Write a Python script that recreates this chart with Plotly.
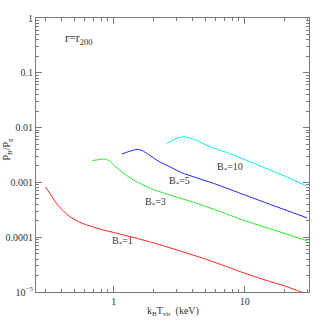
import plotly.graph_objects as go

# Data
red_x = [0.30, 0.33, 0.363, 0.40, 0.458, 0.53, 0.615, 0.824, 1.10, 1.48, 2.0, 3.0, 5.0, 7.0, 10.0, 15.0, 20.0, 25.0, 30.0]
red_y = [8.3e-4, 5.9e-4, 4.2e-4, 3.2e-4, 2.4e-4, 1.95e-4, 1.68e-4, 1.36e-4, 1.15e-4, 9.6e-5, 7.9e-5, 5.9e-5, 4.0e-5, 3.0e-5, 2.2e-5, 1.6e-5, 1.3e-5, 1.07e-5, 9.2e-6]

green_x = [0.687, 0.78, 0.86, 0.93, 1.02, 1.22, 1.46, 1.95, 2.61, 4.17, 7.0, 10.0, 20.0, 30.0]
green_y = [2.5e-3, 2.62e-3, 2.66e-3, 2.45e-3, 1.98e-3, 1.40e-3, 1.06e-3, 7.6e-4, 6.0e-4, 4.25e-4, 2.75e-4, 2.0e-4, 1.18e-4, 8.6e-5]

blue_x = [1.15, 1.3, 1.5, 1.65, 1.84, 2.19, 2.61, 3.3, 4.17, 6.0, 10.0, 20.0, 30.0]
blue_y = [3.3e-3, 3.65e-3, 4.0e-3, 3.8e-3, 3.23e-3, 2.44e-3, 1.99e-3, 1.5e-3, 1.24e-3, 9.3e-4, 5.9e-4, 3.2e-4, 2.25e-4]

cyan_x = [2.54, 3.03, 3.44, 4.05, 5.43, 7.29, 10.0, 13.1, 20.0, 29.7]
cyan_y = [5.13e-3, 6.4e-3, 6.8e-3, 6.16e-3, 4.47e-3, 3.5e-3, 2.6e-3, 2.0e-3, 1.32e-3, 8.6e-4]

series_names = ["B<sub>*</sub>=1", "B<sub>*</sub>=3", "B<sub>*</sub>=5", "B<sub>*</sub>=10"]
series_colors = ["#ff2020", "#22ee22", "#2222ee", "#00eeee"]

x_tick_vals = [1, 10]
x_tick_text = ["1", "10"]
y_tick_vals = [1e-5, 1e-4, 1e-3, 1e-2, 1e-1, 1]
y_tick_text = ["10<sup>\u22125</sup>", "0.0001", "0.001", "0.01", "0.1", "1"]

x_minor = [0.3, 0.4, 0.5, 0.6, 0.7, 0.8, 0.9, 2, 3, 4, 5, 6, 7, 8, 9, 20, 30]
y_minor = [m * 10.0 ** e for e in range(-5, 0) for m in range(2, 10)]

# label positions (log10 coordinates)
label_pos = [(0.063, -4.07), (0.315, -3.37), (0.498, -2.98), (0.885, -2.72)]

FONT = "Liberation Serif, DejaVu Serif, serif"
AX = "#7a7a7a"
TXT = "#333333"

fig = go.Figure()
for xs, ys, nm, col in zip([red_x, green_x, blue_x, cyan_x],
                           [red_y, green_y, blue_y, cyan_y],
                           series_names, series_colors):
    fig.add_trace(go.Scatter(x=xs, y=ys, mode="lines", name=nm,
                             line=dict(color=col, width=1, shape="spline", smoothing=0.6),
                             showlegend=False, cliponaxis=True))

for nm, (lx, ly) in zip(series_names, label_pos):
    fig.add_annotation(x=lx, y=ly, xref="x", yref="y", text=nm, showarrow=False,
                       font=dict(family=FONT, size=10, color=TXT))

fig.add_annotation(x=-0.273, y=-0.39, xref="x", yref="y", text="r=r<sub>200</sub>",
                   showarrow=False, font=dict(family=FONT, size=12, color=TXT))

# axis titles as annotations (paper coords)
fig.add_annotation(x=0.5, y=-0.071, xref="paper", yref="paper", yanchor="middle",
                   text="k<sub>B</sub>T<sub>vir</sub>  (keV)", showarrow=False,
                   font=dict(family=FONT, size=10, color=TXT))
fig.add_annotation(x=-0.106, y=0.52, xref="paper", yref="paper", xanchor="center",
                   text="P<sub>B</sub>/P<sub>g</sub>", showarrow=False, textangle=-90,
                   font=dict(family=FONT, size=10, color=TXT))

axis_common = dict(showline=True, linecolor=AX, linewidth=1, mirror="ticks",
                   ticks="inside", tickcolor=AX, ticklen=6, tickwidth=1,
                   showgrid=False, zeroline=False, automargin=False,
                   tickfont=dict(family=FONT, size=10, color=TXT))

fig.update_xaxes(type="log", range=[-0.595, 1.491], tickvals=x_tick_vals, ticktext=x_tick_text,
                 minor=dict(tickvals=x_minor, ticks="inside", ticklen=3, tickcolor=AX, showgrid=False),
                 **axis_common)
fig.update_yaxes(type="log", range=[-5, 0], tickvals=y_tick_vals, ticktext=y_tick_text,
                 minor=dict(tickvals=y_minor, ticks="inside", ticklen=3, tickcolor=AX, showgrid=False),
                 **axis_common)

fig.update_layout(width=327, height=327, margin=dict(l=36, r=18, t=18, b=35, pad=0),
                  plot_bgcolor="white", paper_bgcolor="white",
                  font=dict(family=FONT, color=TXT))

# remove the browser's default 8px body margin so the figure sits at the window corner
fig.write_html("out.html", config={"displayModeBar": False},
               post_script="document.body.style.margin='0';")
